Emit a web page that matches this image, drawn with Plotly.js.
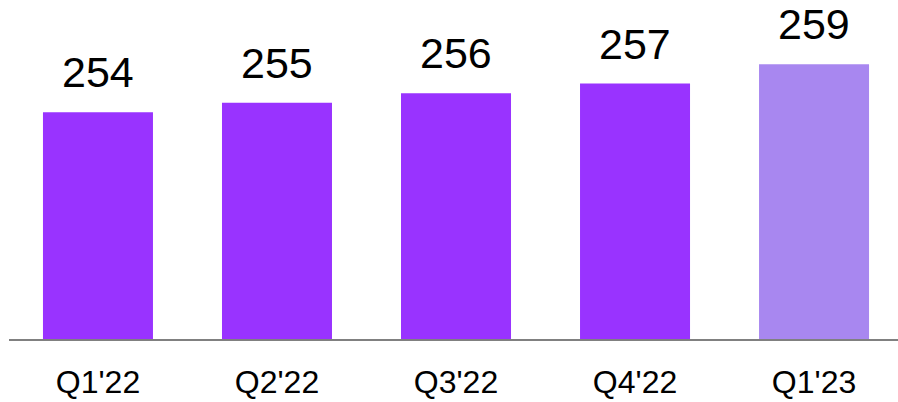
<!DOCTYPE html>
<html>
<head>
<meta charset="utf-8">
<script src="https://cdn.plot.ly/plotly-3.0.1.min.js"></script>
<style>html,body{margin:0;padding:0;background:#fff;}#chart{width:898px;height:402px;}</style>
</head>
<body>
<div id="chart"></div>
<script>
const categories = ["Q1'22", "Q2'22", "Q3'22", "Q4'22", "Q1'23"];
const values = [254, 255, 256, 257, 259];
const barColors = ["#9933FF", "#9933FF", "#9933FF", "#9933FF", "#A887F0"];

const trace = {
  type: 'bar',
  x: categories,
  y: values,
  marker: { color: barColors },
  width: 0.6145,
  hoverinfo: 'none'
};

const annotations = categories.map((c, i) => ({
  x: c, y: values[i], xref: 'x', yref: 'y',
  text: String(values[i]), showarrow: false,
  yanchor: 'bottom', yshift: 14,
  font: { family: 'Liberation Sans, Arial, sans-serif', size: 43, color: '#000' }
}));

const layout = {
  width: 898, height: 402,
  margin: { l: 9, r: 0, t: 0, b: 63 },
  paper_bgcolor: '#fff', plot_bgcolor: '#fff',
  showlegend: false,
  xaxis: {
    type: 'category',
    range: [-0.497, 4.469],
    showline: true, linecolor: '#808080', linewidth: 1.5,
    showgrid: false, zeroline: false,
    ticks: 'outside', ticklen: 14, tickcolor: 'rgba(0,0,0,0)',
    tickfont: { family: 'Liberation Sans, Arial, sans-serif', size: 32, color: '#000' }
  },
  yaxis: {
    range: [230.4, 265.7],
    visible: false, showgrid: false, zeroline: false
  },
  annotations: annotations
};

Plotly.newPlot('chart', [trace], layout, { displayModeBar: false, staticPlot: true });
</script>
</body>
</html>
